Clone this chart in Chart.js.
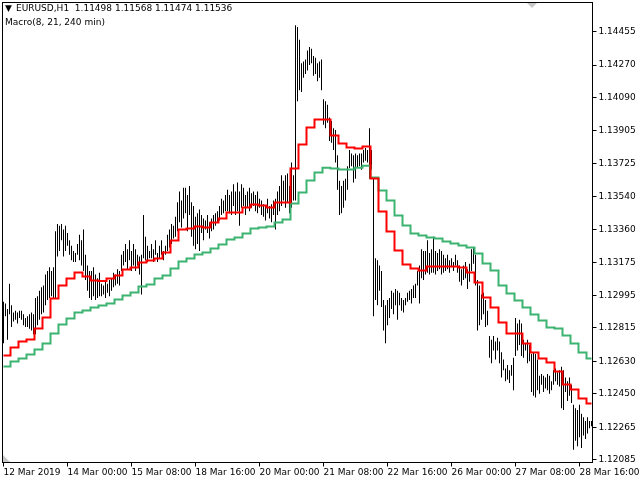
<!DOCTYPE html>
<html>
<head>
<meta charset="utf-8">
<script src="https://cdn.jsdelivr.net/npm/chart.js@4.4.1/dist/chart.umd.min.js"></script>
<style>
  html, body { margin: 0; padding: 0; background: #fff; }
  canvas { display: block; }
</style>
</head>
<body>
<canvas id="macroChart" width="640" height="480"></canvas>
<script>
// header texts
const symbolTitle = 'EURUSD,H1  1.11498 1.11568 1.11474 1.11536';
const indicatorTitle = 'Macro(8, 21, 240 min)';

// H1 bars, high / low
const barHighs = [
  1.1296, 1.1295, 1.1292, 1.1306, 1.1294, 1.1290, 1.1291, 1.1290, 1.1291, 1.1291,
  1.1289, 1.1287, 1.1288, 1.1289, 1.1290, 1.1289, 1.1298, 1.1299, 1.1302, 1.1304,
  1.1305, 1.1311, 1.1313, 1.1315, 1.1313, 1.1315, 1.1335, 1.1339, 1.1338, 1.1339,
  1.1336, 1.1338, 1.1334, 1.1330, 1.1327, 1.1324, 1.1323, 1.1328, 1.1333, 1.1330,
  1.1336, 1.1322, 1.1316, 1.1313, 1.1313, 1.1315, 1.1311, 1.1309, 1.1312, 1.1306,
  1.1305, 1.1307, 1.1306, 1.1308, 1.1309, 1.1312, 1.1311, 1.1314, 1.1313, 1.1322,
  1.1324, 1.1328, 1.1325, 1.1330, 1.1324, 1.1328, 1.1325, 1.1322, 1.1321, 1.1322,
  1.1344, 1.1332, 1.1327, 1.1324, 1.1328, 1.1325, 1.1330, 1.1323, 1.1327, 1.1330,
  1.1324, 1.1327, 1.1333, 1.1336, 1.1339, 1.1338, 1.1343, 1.1351, 1.1357, 1.1352,
  1.1359, 1.1359, 1.1355, 1.1360, 1.1351, 1.1349, 1.1343, 1.1345, 1.1347, 1.1344,
  1.1342, 1.1341, 1.1344, 1.1340, 1.1342, 1.1344, 1.1345, 1.1346, 1.1349, 1.1353,
  1.1352, 1.1355, 1.1358, 1.1355, 1.1357, 1.1361, 1.1357, 1.1362, 1.1357, 1.1361,
  1.1359, 1.1355, 1.1357, 1.1359, 1.1356, 1.1357, 1.1355, 1.1357, 1.1353, 1.1352,
  1.1350, 1.1349, 1.1353, 1.1349, 1.1350, 1.1352, 1.1353, 1.1357, 1.1360, 1.1366,
  1.1363, 1.1366, 1.1367, 1.1360, 1.1373, 1.1366, 1.1449, 1.1448, 1.1441, 1.1428,
  1.1429, 1.1430, 1.1435, 1.1437, 1.1436, 1.1432, 1.1431, 1.1428, 1.1429, 1.1430,
  1.1408, 1.1407, 1.1405, 1.1398, 1.1396, 1.1392, 1.1391, 1.1377, 1.1363, 1.1360,
  1.1363, 1.1364, 1.1371, 1.1380, 1.1378, 1.1377, 1.1378, 1.1377, 1.1378, 1.1378,
  1.1380, 1.1381, 1.1380, 1.1392, 1.1380, 1.1365, 1.1320, 1.1319, 1.1316, 1.1313,
  1.1297, 1.1294, 1.1297, 1.1298, 1.1302, 1.1301, 1.1303, 1.1302, 1.1301, 1.1298,
  1.1297, 1.1298, 1.1301, 1.1302, 1.1303, 1.1305, 1.1306, 1.1313, 1.1316, 1.1325,
  1.1324, 1.1324, 1.1330, 1.1323, 1.1325, 1.1332, 1.1324, 1.1323, 1.1325, 1.1324,
  1.1322, 1.1320, 1.1322, 1.1319, 1.1320, 1.1318, 1.1322, 1.1319, 1.1316, 1.1314,
  1.1316, 1.1318, 1.1314, 1.1317, 1.1325, 1.1326, 1.1322, 1.1308, 1.1305, 1.1300,
  1.1301, 1.1297, 1.1291, 1.1277, 1.1275, 1.1277, 1.1274, 1.1276, 1.1274, 1.1268,
  1.1264, 1.1259, 1.1261, 1.1258, 1.1261, 1.1265, 1.1287, 1.1284, 1.1286, 1.1284,
  1.1275, 1.1273, 1.1275, 1.1272, 1.1267, 1.1268, 1.1267, 1.1264, 1.1255, 1.1256,
  1.1255, 1.1254, 1.1256, 1.1255, 1.1252, 1.1258, 1.1259, 1.1257, 1.1258, 1.1260,
  1.1258, 1.1254, 1.1252, 1.1254, 1.1250, 1.1239, 1.1237, 1.1236, 1.1239, 1.1234,
  1.1232, 1.1230, 1.1232, 1.1230, 1.1230
];
const barLows = [
  1.1273, 1.1288, 1.1275, 1.1289, 1.1282, 1.1285, 1.1286, 1.1284, 1.1287, 1.1286,
  1.1283, 1.1282, 1.1282, 1.1281, 1.1280, 1.1278, 1.1278, 1.1283, 1.1286, 1.1289,
  1.1290, 1.1294, 1.1297, 1.1298, 1.1299, 1.1298, 1.1298, 1.1321, 1.1324, 1.1330,
  1.1321, 1.1324, 1.1327, 1.1322, 1.1319, 1.1318, 1.1318, 1.1322, 1.1319, 1.1316,
  1.1313, 1.1308, 1.1302, 1.1298, 1.1297, 1.1299, 1.1297, 1.1298, 1.1299, 1.1299,
  1.1300, 1.1298, 1.1301, 1.1299, 1.1302, 1.1304, 1.1305, 1.1306, 1.1305, 1.1313,
  1.1316, 1.1318, 1.1314, 1.1319, 1.1313, 1.1316, 1.1313, 1.1316, 1.1311, 1.1300,
  1.1320, 1.1319, 1.1318, 1.1320, 1.1320, 1.1318, 1.1322, 1.1318, 1.1320, 1.1322,
  1.1319, 1.1322, 1.1324, 1.1326, 1.1328, 1.1331, 1.1332, 1.1335, 1.1340, 1.1337,
  1.1342, 1.1345, 1.1335, 1.1344, 1.1332, 1.1327, 1.1325, 1.1328, 1.1324, 1.1334,
  1.1330, 1.1336, 1.1334, 1.1331, 1.1335, 1.1336, 1.1338, 1.1340, 1.1341, 1.1344,
  1.1345, 1.1346, 1.1346, 1.1345, 1.1344, 1.1349, 1.1344, 1.1346, 1.1338, 1.1348,
  1.1349, 1.1344, 1.1348, 1.1346, 1.1348, 1.1349, 1.1346, 1.1345, 1.1348, 1.1344,
  1.1343, 1.1341, 1.1345, 1.1342, 1.1340, 1.1344, 1.1336, 1.1344, 1.1346, 1.1349,
  1.1352, 1.1348, 1.1351, 1.1345, 1.1348, 1.1352, 1.1352, 1.1407, 1.1413, 1.1412,
  1.1420, 1.1422, 1.1424, 1.1427, 1.1428, 1.1421, 1.1422, 1.1418, 1.1420, 1.1413,
  1.1394, 1.1392, 1.1395, 1.1385, 1.1384, 1.1380, 1.1373, 1.1358, 1.1344, 1.1345,
  1.1348, 1.1352, 1.1358, 1.1370, 1.1371, 1.1362, 1.1364, 1.1370, 1.1371, 1.1369,
  1.1373, 1.1374, 1.1373, 1.1364, 1.1369, 1.1288, 1.1297, 1.1294, 1.1302, 1.1293,
  1.1280, 1.1273, 1.1283, 1.1287, 1.1292, 1.1289, 1.1294, 1.1286, 1.1294, 1.1291,
  1.1290, 1.1294, 1.1296, 1.1297, 1.1295, 1.1298, 1.1298, 1.1305, 1.1295, 1.1309,
  1.1308, 1.1311, 1.1312, 1.1311, 1.1312, 1.1312, 1.1311, 1.1313, 1.1314, 1.1311,
  1.1312, 1.1313, 1.1314, 1.1312, 1.1315, 1.1313, 1.1316, 1.1312, 1.1307, 1.1305,
  1.1308, 1.1309, 1.1303, 1.1307, 1.1313, 1.1317, 1.1305, 1.1280, 1.1283, 1.1286,
  1.1289, 1.1282, 1.1283, 1.1265, 1.1262, 1.1269, 1.1264, 1.1269, 1.1262, 1.1254,
  1.1258, 1.1252, 1.1253, 1.1251, 1.1255, 1.1247, 1.1266, 1.1269, 1.1272, 1.1266,
  1.1265, 1.1269, 1.1262, 1.1263, 1.1246, 1.1244, 1.1243, 1.1247, 1.1245, 1.1250,
  1.1246, 1.1248, 1.1247, 1.1245, 1.1247, 1.1250, 1.1252, 1.1250, 1.1249, 1.1237,
  1.1236, 1.1246, 1.1241, 1.1244, 1.1240, 1.1214, 1.1219, 1.1216, 1.1221, 1.1215,
  1.1222, 1.1220, 1.1223, 1.1226, 1.1227
];

// Macro lines, one value per 240 min block (4 H1 bars)
const fastMacro = [
  1.12662, 1.12707, 1.12740, 1.12751, 1.12812, 1.12873, 1.12978, 1.13050, 1.13088, 1.13122,
  1.13100, 1.13077, 1.13075, 1.13088, 1.13105, 1.13138, 1.13149, 1.13177, 1.13188, 1.13199,
  1.13232, 1.13299, 1.13360, 1.13365, 1.13376, 1.13371, 1.13398, 1.13420, 1.13454, 1.13454,
  1.13481, 1.13498, 1.13492, 1.13481, 1.13509, 1.13509, 1.13697, 1.13830, 1.13924, 1.13968,
  1.13968, 1.13880, 1.13835, 1.13813, 1.13808, 1.13819, 1.13642, 1.13459, 1.13349, 1.13243,
  1.13166, 1.13144, 1.13133, 1.13155, 1.13155, 1.13155, 1.13155, 1.13149, 1.13122, 1.13066,
  1.12983, 1.12928, 1.12845, 1.12784, 1.12784, 1.12729, 1.12679, 1.12646, 1.12624, 1.12574,
  1.12502, 1.12474, 1.12424, 1.12397
];
const slowMacro = [
  1.12601, 1.12629, 1.12645, 1.12668, 1.12695, 1.12729, 1.12784, 1.12834, 1.12867, 1.12900,
  1.12911, 1.12928, 1.12939, 1.12950, 1.12972, 1.12994, 1.13011, 1.13044, 1.13055, 1.13088,
  1.13105, 1.13144, 1.13182, 1.13199, 1.13221, 1.13232, 1.13254, 1.13276, 1.13304, 1.13315,
  1.13337, 1.13365, 1.13371, 1.13376, 1.13398, 1.13415, 1.13503, 1.13564, 1.13631, 1.13675,
  1.13702, 1.13697, 1.13691, 1.13691, 1.13702, 1.13713, 1.13647, 1.13575, 1.13520, 1.13437,
  1.13382, 1.13337, 1.13326, 1.13315, 1.13310, 1.13293, 1.13282, 1.13271, 1.13260, 1.13227,
  1.13171, 1.13133, 1.13050, 1.13006, 1.12967, 1.12928, 1.12889, 1.12856, 1.12817, 1.12812,
  1.12773, 1.12729, 1.12679, 1.12646
];

// axis ticks
const priceTicks = [1.12085, 1.12265, 1.12450, 1.12630, 1.12815, 1.12995, 1.13175,
  1.13360, 1.13540, 1.13725, 1.13905, 1.14090, 1.14270, 1.14455];
const timeTickBars = [0, 32, 64, 96, 128, 160, 192, 224, 256, 288];
const timeTickLabels = ['12 Mar 2019', '14 Mar 00:00', '15 Mar 08:00', '18 Mar 16:00', '20 Mar 00:00',
  '21 Mar 08:00', '22 Mar 16:00', '26 Mar 00:00', '27 Mar 08:00', '28 Mar 16:00'];

const FONT = { family: 'DejaVu Sans', size: 9 };

const barRanges = barLows.map((lo, i) => [lo, barHighs[i]]);
const fastPerBar = barHighs.map((_, i) => fastMacro[Math.floor(i / 4)]);
const slowPerBar = barHighs.map((_, i) => slowMacro[Math.floor(i / 4)]);

// frame, header text and the small grey markers
const terminalDecor = {
    id: 'terminalDecor',
    afterDraw(chart) {
        const ctx = chart.ctx;
        const a = chart.chartArea;
        ctx.save();
        ctx.strokeStyle = '#000';
        ctx.lineWidth = 1;
        ctx.strokeRect(a.left, a.top, a.right - a.left, a.bottom - a.top);

        ctx.fillStyle = '#c8c8c8';
        ctx.beginPath();
        ctx.moveTo(527, 3); ctx.lineTo(537, 3); ctx.lineTo(532, 8);
        ctx.closePath(); ctx.fill();
        ctx.beginPath();
        ctx.moveTo(3, 455); ctx.lineTo(3, 462); ctx.lineTo(10, 462);
        ctx.closePath(); ctx.fill();

        ctx.fillStyle = '#000';
        ctx.font = `${FONT.size}px "${FONT.family}"`;
        ctx.textBaseline = 'middle';
        ctx.textAlign = 'left';
        ctx.fillText('\u25BC', 5, 9);
        ctx.fillText(symbolTitle, 16, 9);
        ctx.fillText(indicatorTitle, 5, 23);
        ctx.restore();
    }
};

new Chart(document.getElementById('macroChart'), {
    data: {
        labels: barHighs.map((_, i) => i),
        datasets: [
            {
                type: 'line',
                label: 'Macro fast',
                data: fastPerBar,
                borderColor: '#ff0000',
                borderWidth: 2,
                pointRadius: 0,
                stepped: 'middle',
                order: 0
            },
            {
                type: 'line',
                label: 'Macro slow',
                data: slowPerBar,
                borderColor: '#3cb371',
                borderWidth: 2,
                pointRadius: 0,
                stepped: 'middle',
                order: 1
            },
            {
                type: 'bar',
                label: 'EURUSD,H1',
                data: barRanges,
                backgroundColor: '#000',
                borderWidth: 0,
                inflateAmount: 0,
                barThickness: 1,
                order: 2
            }
        ]
    },
    options: {
        responsive: false,
        animation: false,
        devicePixelRatio: 1,
        layout: { padding: { left: 2.5, top: 2.5, right: 0, bottom: 0 } },
        plugins: {
            legend: { display: false },
            tooltip: { enabled: false }
        },
        scales: {
            x: {
                type: 'category',
                offset: true,
                afterFit: scale => {
                    // labels may hang past the plot, keep the plot width fixed
                    scale.height = 17.5;
                    scale.paddingLeft = 0;
                    scale.paddingRight = 0;
                },
                afterBuildTicks: scale => {
                    scale.ticks = timeTickBars.map(v => ({ value: v }));
                },
                grid: {
                    drawOnChartArea: false,
                    offset: false,
                    tickLength: 4,
                    color: '#000'
                },
                border: { display: false },
                ticks: {
                    autoSkip: false,
                    maxRotation: 0,
                    align: 'start',
                    padding: 1,
                    color: '#000',
                    font: FONT,
                    callback: (v, idx) => timeTickLabels[idx]
                }
            },
            y: {
                position: 'right',
                min: 1.12070,
                max: 1.14616,
                afterFit: scale => {
                    scale.width = 47.5;
                    scale.paddingTop = 0;
                    scale.paddingBottom = 0;
                },
                afterBuildTicks: scale => {
                    scale.ticks = priceTicks.map(v => ({ value: v }));
                },
                grid: {
                    drawOnChartArea: false,
                    tickLength: 4,
                    color: '#000'
                },
                border: { display: false },
                ticks: {
                    padding: 2,
                    color: '#000',
                    font: FONT,
                    callback: v => v.toFixed(5)
                }
            }
        }
    },
    plugins: [terminalDecor]
});
</script>
</body>
</html>
